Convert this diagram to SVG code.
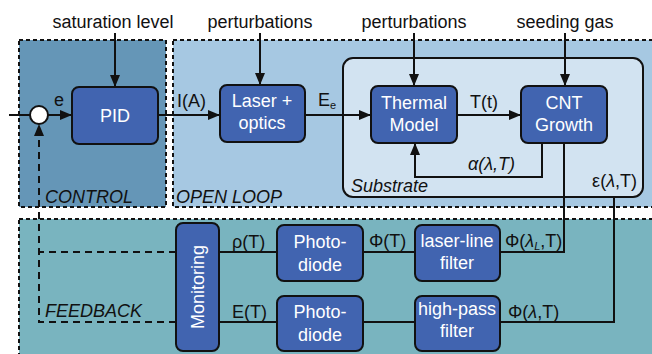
<svg xmlns="http://www.w3.org/2000/svg" width="652" height="354" viewBox="0 0 652 354">
<style>
text{font-family:"Liberation Sans",Arial,sans-serif;font-size:18px;fill:#111}
.bt{fill:#fff;text-anchor:middle}
.box{fill:#4164b0;stroke:#111;stroke-width:2}
.reg{stroke:#111;stroke-width:2;stroke-dasharray:4 3}
.ln{fill:none;stroke:#111;stroke-width:2}
.arr{marker-end:url(#ah)}
.dash{fill:none;stroke:#111;stroke-width:2;stroke-dasharray:7 5}
.it{font-style:italic}
.mid{text-anchor:middle}
</style>
<defs>
<marker id="ah" viewBox="0 0 12 10" refX="12" refY="5" markerWidth="12" markerHeight="10" markerUnits="userSpaceOnUse" orient="auto">
<path d="M0,0 L12,5 L0,10 z" fill="#111"/>
</marker>
</defs>

<g id="regions">
<rect id="control" class="reg" x="19" y="40" width="147" height="167" fill="#6596b7"/>
<rect id="openloop" class="reg" x="173" y="40" width="490" height="167" fill="#a6c8e2"/>
<rect id="feedback" class="reg" x="19" y="219" width="645" height="145" fill="#79b4bf"/>
<rect id="substrate" x="343" y="58" width="300" height="139" rx="10" fill="#d2e3f1" stroke="#111" stroke-width="2"/>
<text class="it" x="45" y="203">CONTROL</text>
<text class="it" x="176" y="203">OPEN LOOP</text>
<text class="it" x="351" y="192">Substrate</text>
<text class="it" x="45" y="317">FEEDBACK</text>
</g>

<g id="connectors">
<line class="ln" x1="9" y1="115" x2="30" y2="115"/>
<line class="ln arr" x1="48" y1="115" x2="72" y2="115"/>
<line class="ln arr" x1="115" y1="33" x2="115" y2="87"/>
<line class="ln arr" x1="158" y1="115" x2="220" y2="115"/>
<line class="ln arr" x1="260" y1="33" x2="260" y2="85"/>
<line class="ln arr" x1="305" y1="115" x2="371" y2="115"/>
<line class="ln arr" x1="414" y1="33" x2="414" y2="86"/>
<line class="ln arr" x1="457" y1="115" x2="521" y2="115"/>
<line class="ln arr" x1="565" y1="33" x2="565" y2="86"/>
<polyline class="ln arr" points="542,143 542,177 415,177 415,143"/>
<polyline class="ln" points="564,143 564,252 500,252"/>
<polyline class="ln" points="614,197 614,322 500,322"/>
<line class="ln" x1="363" y1="252" x2="415" y2="252"/>
<line class="ln" x1="363" y1="322" x2="415" y2="322"/>
<line class="ln" x1="219" y1="252" x2="277" y2="252"/>
<line class="ln" x1="219" y1="322" x2="277" y2="322"/>
<polyline class="dash" points="176,252 39,252"/>
<polyline class="dash arr" points="176,322 39,322 39,124"/>
<text x="54" y="106">e</text>
<text x="177" y="107">I(A)</text>
<text x="318" y="106">E<tspan font-size="11" dy="3">e</tspan></text>
<text x="470" y="108">T(t)</text>
<text class="it" x="468" y="170">α(λ,T)</text>
<text x="637" y="187" text-anchor="end">ε(<tspan class="it">λ</tspan>,T)</text>
<text x="232" y="248">ρ(T)</text>
<text x="232" y="318">E(T)</text>
<text x="369" y="247">Φ(T)</text>
<text x="505" y="247">Φ(<tspan class="it">λ<tspan font-size="11" dy="3">L</tspan></tspan><tspan dy="-3">,T)</tspan></text>
<text x="508" y="318">Φ(<tspan class="it">λ</tspan>,T)</text>
<text class="mid" x="113" y="28">saturation level</text>
<text class="mid" x="260" y="28">perturbations</text>
<text class="mid" x="414" y="28">perturbations</text>
<text class="mid" x="565" y="28">seeding gas</text>
</g>

<g id="sum">
<circle cx="39" cy="115" r="9" fill="#fff" stroke="#111" stroke-width="2"/>
</g>
<g id="pid">
<rect class="box" x="72" y="87" width="86" height="57" rx="7"/>
<text class="bt" x="115" y="122">PID</text>
</g>
<g id="laser">
<rect class="box" x="220" y="85" width="85" height="57" rx="7"/>
<text class="bt" x="262" y="107">Laser +</text>
<text class="bt" x="262" y="129">optics</text>
</g>
<g id="thermal">
<rect class="box" x="371" y="86" width="86" height="57" rx="7"/>
<text class="bt" x="414" y="109">Thermal</text>
<text class="bt" x="414" y="131">Model</text>
</g>
<g id="cnt">
<rect class="box" x="521" y="86" width="86" height="57" rx="7"/>
<text class="bt" x="564" y="109">CNT</text>
<text class="bt" x="564" y="131">Growth</text>
</g>
<g id="monitoring">
<rect class="box" x="176" y="223" width="43" height="128" rx="7"/>
<text class="bt" transform="translate(204,287) rotate(-90)">Monitoring</text>
</g>
<g id="photodiode1">
<rect class="box" x="277" y="225" width="86" height="56" rx="7"/>
<text class="bt" x="320" y="248">Photo-</text>
<text class="bt" x="320" y="271">diode</text>
</g>
<g id="photodiode2">
<rect class="box" x="277" y="296" width="86" height="55" rx="7"/>
<text class="bt" x="320" y="318">Photo-</text>
<text class="bt" x="320" y="341">diode</text>
</g>
<g id="laserline">
<rect class="box" x="415" y="225" width="85" height="56" rx="7"/>
<text class="bt" x="457" y="247">laser-line</text>
<text class="bt" x="457" y="269">filter</text>
</g>
<g id="highpass">
<rect class="box" x="415" y="296" width="85" height="55" rx="7"/>
<text class="bt" x="457" y="315">high-pass</text>
<text class="bt" x="457" y="337">filter</text>
</g>
</svg>
